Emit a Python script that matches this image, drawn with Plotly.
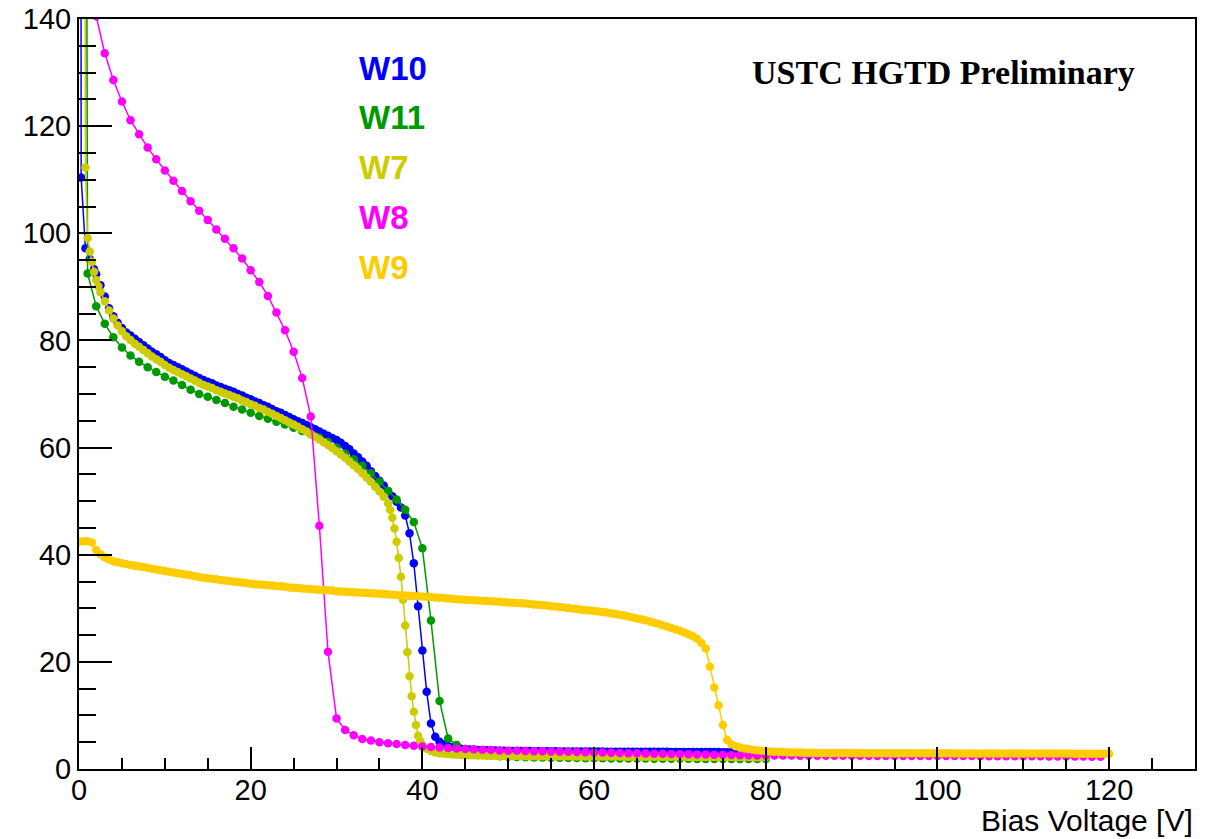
import plotly.graph_objects as go

# ---------------- data ----------------
# W10 (blue): first points irregular, then 0.5 V steps from 2.0 V
w10_x_start = [0.0, 0.25, 0.75, 1.25, 1.75]
w10_y_start = [800, 110.4, 97.2, 95.2, 93.3]
w10_y_main = [
    92.4, 90.3, 88.2, 86.0, 84.5, 83.3, 82.3, 81.5, 80.9, 80.3,      # 2.0 - 6.5
    79.7, 79.1, 78.5, 77.9, 77.4, 76.9, 76.3, 75.8, 75.4, 75.0,      # 7.0 - 11.5
    74.6, 74.2, 73.8, 73.4, 73.0, 72.6, 72.3, 72.0, 71.6, 71.3,      # 12.0 - 16.5
    71.0, 70.7, 70.4, 70.0, 69.7, 69.3, 69.0, 68.6, 68.3, 67.9,      # 17.0 - 21.5
    67.6, 67.2, 66.8, 66.5, 66.1, 65.7, 65.3, 64.9, 64.6, 64.2,      # 22.0 - 26.5
    63.8, 63.4, 63.0, 62.6, 62.2, 61.8, 61.4, 60.9, 60.3, 59.7,      # 27.0 - 31.5
    58.9, 58.2, 57.4, 56.6, 55.6, 54.7, 53.8, 52.9, 51.9, 50.9,      # 32.0 - 36.5
    49.9, 48.8, 47.3, 44.0, 38.4, 30.4, 22.1, 14.4, 8.5, 6.0,        # 37.0 - 41.5
    5.1, 4.6, 4.3, 4.05, 3.9, 3.8, 3.72, 3.66, 3.6, 3.56,            # 42.0 - 46.5
    3.52, 3.49, 3.46, 3.44, 3.42, 3.40, 3.38,                        # 47.0 - 50.0
    3.37, 3.36, 3.35, 3.35, 3.34, 3.33, 3.32, 3.32, 3.31, 3.30,      # 50.5 - 55.0
    3.30, 3.29, 3.29, 3.28, 3.28, 3.27, 3.27, 3.26, 3.26, 3.25,      # 55.5 - 60.0
    3.25, 3.25, 3.24, 3.24, 3.24, 3.23, 3.23, 3.23, 3.22, 3.22,      # 60.5 - 65.0
    3.22, 3.21, 3.21, 3.21, 3.20, 3.20, 3.20, 3.19, 3.19, 3.19,      # 65.5 - 70.0
    3.18, 3.18, 3.18, 3.17, 3.17, 3.17, 3.16, 3.16, 3.16, 3.15,      # 70.5 - 75.0
    3.15, 3.15, 3.14, 3.14, 3.14, 3.13, 3.13, 3.13, 3.12, 3.12,      # 75.5 - 80.0
]

# W11 (green): 1 V steps
w11_x_start = [0.5]
w11_y_start = [400]
w11_y_main = [
    92.5, 86.4, 83.1, 80.6, 78.7, 77.2, 76.0, 75.0, 74.1, 73.2,      # 1 - 10
    72.5, 71.7, 70.8, 70.0, 69.5, 68.9, 68.3, 67.6, 67.1, 66.5,      # 11 - 20
    65.9, 65.4, 64.8, 64.3, 63.7, 63.1, 62.5, 61.9, 61.1, 60.0,      # 21 - 30
    58.9, 57.8, 56.6, 55.2, 53.6, 51.9, 50.3, 48.4, 46.1, 41.2,      # 31 - 40
    27.7, 12.7, 5.7, 4.5, 3.6, 3.0, 2.7, 2.5, 2.4, 2.3,              # 41 - 50
    2.25, 2.2, 2.17, 2.14, 2.11, 2.08, 2.06, 2.04, 2.02, 2.0,        # 51 - 60
    1.99, 1.98, 1.97, 1.96, 1.95, 1.94, 1.93, 1.92, 1.91, 1.9,       # 61 - 70
    1.9, 1.89, 1.89, 1.88, 1.88, 1.87, 1.87, 1.86, 1.86, 1.85,       # 71 - 80
]

# W7 (olive yellow)
w7_x_a = [0.5, 0.75, 1.0, 1.25, 1.5, 1.75, 2.0, 2.25, 2.5]
w7_y_a = [400, 112.3, 99.1, 96.6, 94.7, 92.8, 91.3, 90.1, 89.0]
w7_y_b = [  # 3.0 - 36.0, 0.5 V steps
    87.3, 85.6, 84.1, 82.8, 81.7, 80.8, 80.1, 79.4, 78.8, 78.2,
    77.6, 77.0, 76.5, 76.0, 75.4, 74.9, 74.5, 74.1, 73.7, 73.3,
    72.9, 72.5, 72.1, 71.7, 71.4, 71.1, 70.7, 70.4, 70.1, 69.8,
    69.5, 69.2, 68.8, 68.5, 68.1, 67.8, 67.4, 67.1, 66.7, 66.3,
    65.9, 65.5, 65.1, 64.7, 64.3, 63.9, 63.4, 63.0, 62.5, 62.0,
    61.5, 61.0, 60.5, 59.9, 59.3, 58.7, 58.1, 57.4, 56.7, 56.0,
    55.2, 54.4, 53.6, 52.7, 51.8, 50.8, 49.6,
]
w7_y_c = [  # 36.25 - 40.0, 0.25 V steps
    48.4, 46.9, 44.9, 42.4, 39.4, 35.9, 31.6, 26.8, 21.8, 17.3,
    13.6, 10.7, 8.2, 6.2, 5.2, 4.5,
]
w7_y_d = [  # 40.5 - 80.0, 0.5 V steps
    3.8, 3.35, 3.1, 2.95, 2.85, 2.78, 2.72, 2.67, 2.63, 2.6,
    2.57, 2.55, 2.53, 2.51, 2.49, 2.47, 2.46, 2.45, 2.44, 2.43,
    2.42, 2.41, 2.41, 2.40, 2.40, 2.39, 2.39, 2.38, 2.38, 2.37,
    2.37, 2.36, 2.36, 2.36, 2.35, 2.35, 2.35, 2.34, 2.34, 2.34,
    2.33, 2.33, 2.33, 2.32, 2.32, 2.32, 2.31, 2.31, 2.31, 2.30,
    2.30, 2.30, 2.29, 2.29, 2.29, 2.28, 2.28, 2.28, 2.27, 2.27,
    2.27, 2.26, 2.26, 2.26, 2.25, 2.25, 2.25, 2.24, 2.24, 2.24,
    2.23, 2.23, 2.23, 2.22, 2.22, 2.22, 2.21, 2.21, 2.21, 2.2,
]

# W8 (magenta): 1 V steps from 0 V
w8_y = [
    175, 152, 140.5, 133.6, 128.6, 124.6, 121.1, 118.5, 116.0, 113.8,
    111.7, 109.8, 107.9, 106.0, 104.2, 102.5, 100.7, 99.0, 97.2, 95.3,
    93.1, 90.9, 88.3, 85.2, 81.9, 77.9, 73.0, 65.8, 45.4, 21.9,
    9.45, 7.3, 6.3, 5.6, 5.3, 5.0, 4.8, 4.65, 4.5, 4.35,
    4.2, 4.1, 4.0, 3.9, 3.82, 3.75, 3.68, 3.6, 3.53, 3.47,
    3.42, 3.39, 3.36, 3.33, 3.3, 3.27, 3.24, 3.21, 3.18, 3.15,
    3.10, 3.06, 3.02, 2.98, 2.95, 2.92, 2.89, 2.86, 2.83, 2.80,
    2.78, 2.76, 2.73, 2.70, 2.67, 2.64, 2.61, 2.58, 2.56, 2.54,
    2.53, 2.52, 2.51, 2.5, 2.49, 2.49, 2.48, 2.48, 2.47, 2.47,
    2.46, 2.46, 2.45, 2.45, 2.45, 2.44, 2.44, 2.44, 2.43, 2.43,
    2.43, 2.42, 2.42, 2.41, 2.41, 2.40, 2.40, 2.39, 2.39, 2.38,
    2.37, 2.37, 2.36, 2.35, 2.35, 2.34, 2.33, 2.32, 2.31, 2.30,
]

# W9 (gold): 0.5 V steps from 0 V
w9_y = [
    42.4, 42.5, 42.5, 42.3, 40.9, 40.1, 39.5, 39.1, 38.8, 38.6,      # 0 - 4.5
    38.4, 38.25, 38.1, 37.95, 37.85, 37.7, 37.55, 37.4, 37.25, 37.1,
    36.95, 36.8, 36.7, 36.55, 36.4, 36.3, 36.15, 36.0, 35.85, 35.7,  # 10 - 14.5
    35.6, 35.5, 35.4, 35.3, 35.2, 35.1, 35.0, 34.9, 34.8, 34.7,
    34.6, 34.5, 34.45, 34.4, 34.3, 34.25, 34.15, 34.1, 34.0, 33.9,   # 20 - 24.5
    33.85, 33.8, 33.7, 33.65, 33.6, 33.5, 33.45, 33.4, 33.35, 33.3,
    33.2, 33.15, 33.1, 33.05, 33.0, 32.95, 32.9, 32.85, 32.8, 32.75, # 30 - 34.5
    32.7, 32.65, 32.6, 32.55, 32.5, 32.45, 32.4, 32.35, 32.3, 32.25,
    32.2, 32.15, 32.1, 32.0, 31.95, 31.9, 31.85, 31.8, 31.7, 31.65,  # 40 - 44.5
    31.6, 31.55, 31.5, 31.45, 31.4, 31.35, 31.3, 31.25, 31.2, 31.15,
    31.1, 31.05, 31.0, 30.95, 30.9, 30.8, 30.7, 30.65, 30.55, 30.5,  # 50 - 54.5
    30.4, 30.35, 30.25, 30.15, 30.05, 29.95, 29.85, 29.75, 29.65, 29.6,
    29.5, 29.4, 29.3, 29.2, 29.05, 28.95, 28.8, 28.65, 28.45, 28.3,  # 60 - 64.5
    28.1, 27.95, 27.75, 27.55, 27.3, 27.1, 26.85, 26.6, 26.3, 26.05,
    25.8, 25.5, 25.15, 24.8, 24.3, 23.5, 22.5, 19.1, 15.2, 11.9,     # 70 - 74.5
    8.2, 5.4, 4.6, 4.25, 4.0, 3.85, 3.72, 3.6, 3.5, 3.42,
    3.35, 3.29, 3.24, 3.2, 3.16, 3.13, 3.1, 3.08, 3.06, 3.04,        # 80 - 84.5
    3.03, 3.02, 3.01, 3.0, 3.0, 2.99, 2.99, 2.98, 2.98, 2.97,
    2.97, 2.97, 2.96, 2.96, 2.96, 2.95, 2.95, 2.95, 2.95, 2.94,      # 90 - 94.5
    2.94, 2.94, 2.94, 2.93, 2.93, 2.93, 2.93, 2.93, 2.92, 2.92,
    2.92, 2.92, 2.92, 2.92, 2.91, 2.91, 2.91, 2.91, 2.91, 2.91,      # 100 - 104.5
    2.9, 2.9, 2.9, 2.9, 2.9, 2.9, 2.9, 2.89, 2.89, 2.89,
    2.89, 2.89, 2.89, 2.89, 2.89, 2.88, 2.88, 2.88, 2.88, 2.88,      # 110 - 114.5
    2.88, 2.88, 2.87, 2.87, 2.87, 2.87, 2.87, 2.87, 2.87, 2.86,
    2.86,                                                            # 120
]

names = ["W10", "W11", "W7", "W8", "W9"]
colors = ["#0000ff", "#009900", "#cccc00", "#ff00ff", "#ffcc00"]


def steps(start, step, n):
    return [start + step * i for i in range(n)]


w10_x = w10_x_start + steps(2.0, 0.5, len(w10_y_main))
w10_y = w10_y_start + w10_y_main
w11_x = w11_x_start + steps(1.0, 1.0, len(w11_y_main))
w11_y = w11_y_start + w11_y_main
w7_x = (w7_x_a + steps(3.0, 0.5, len(w7_y_b)) + steps(36.25, 0.25, len(w7_y_c))
        + steps(40.5, 0.5, len(w7_y_d)))
w7_y = w7_y_a + w7_y_b + w7_y_c + w7_y_d
w8_x = steps(0.0, 1.0, len(w8_y))
w9_x = steps(0.0, 0.5, len(w9_y))

series = [(w10_x, w10_y), (w11_x, w11_y), (w7_x, w7_y), (w8_x, w8_y), (w9_x, w9_y)]

fig = go.Figure()
for (xs, ys), name, col in zip(series, names, colors):
    fig.add_trace(go.Scatter(
        x=xs, y=ys, name=name, mode="lines+markers",
        line=dict(color=col, width=1.5),
        marker=dict(color=col, size=8.5, line=dict(width=0)),
    ))

L, R, T, B = 79, 30, 19, 70
W, H = 1225, 839
pw, ph = W - L - R, H - T - B


def px(xp):
    return (xp - L) / pw


def py(yp):
    return (H - B - yp) / ph


label_y = [68.7, 117.5, 167.5, 217.5, 267.5]
annotations = []
for name, col, yy in zip(names, colors, label_y):
    annotations.append(dict(
        x=px(357), y=py(yy), xref="paper", yref="paper", xanchor="left", yanchor="middle",
        text="<b>%s</b>" % name, showarrow=False,
        font=dict(family="Liberation Sans", size=33, color=col)))

annotations.append(dict(
    x=px(943), y=py(73), xref="paper", yref="paper", xanchor="center", yanchor="middle",
    text="<b>USTC HGTD Preliminary</b>", showarrow=False,
    font=dict(family="Liberation Serif", size=34, color="black")))

annotations.append(dict(
    x=1.0, y=py(820), xref="paper", yref="paper", xanchor="right", yanchor="middle",
    text="Bias Voltage [V]", showarrow=False,
    font=dict(family="Liberation Sans", size=30, color="black")))

axis_common = dict(
    showline=True, linecolor="black", linewidth=2, mirror=True,
    ticks="inside", tickcolor="black", tickwidth=1.6,
    showgrid=False, zeroline=False, automargin=False,
    tickfont=dict(family="Liberation Sans", size=29, color="black"),
)

fig.update_xaxes(range=[0, 130], tick0=0, dtick=20, ticklen=22, ticklabelstandoff=-6,
                 minor=dict(dtick=5, ticklen=11, ticks="inside", tickcolor="black",
                            tickwidth=1.6, showgrid=False),
                 **axis_common)
fig.update_yaxes(range=[0, 140], tick0=0, dtick=20, ticklen=33,
                 minor=dict(dtick=5, ticklen=17, ticks="inside", tickcolor="black",
                            tickwidth=1.6, showgrid=False),
                 **axis_common)

fig.update_layout(
    width=W, height=H,
    margin=dict(l=L, r=R, t=T, b=B),
    plot_bgcolor="white", paper_bgcolor="white",
    showlegend=False,
    annotations=annotations,
    font=dict(family="Liberation Sans", color="black"),
)

fig.write_html("out.html")
